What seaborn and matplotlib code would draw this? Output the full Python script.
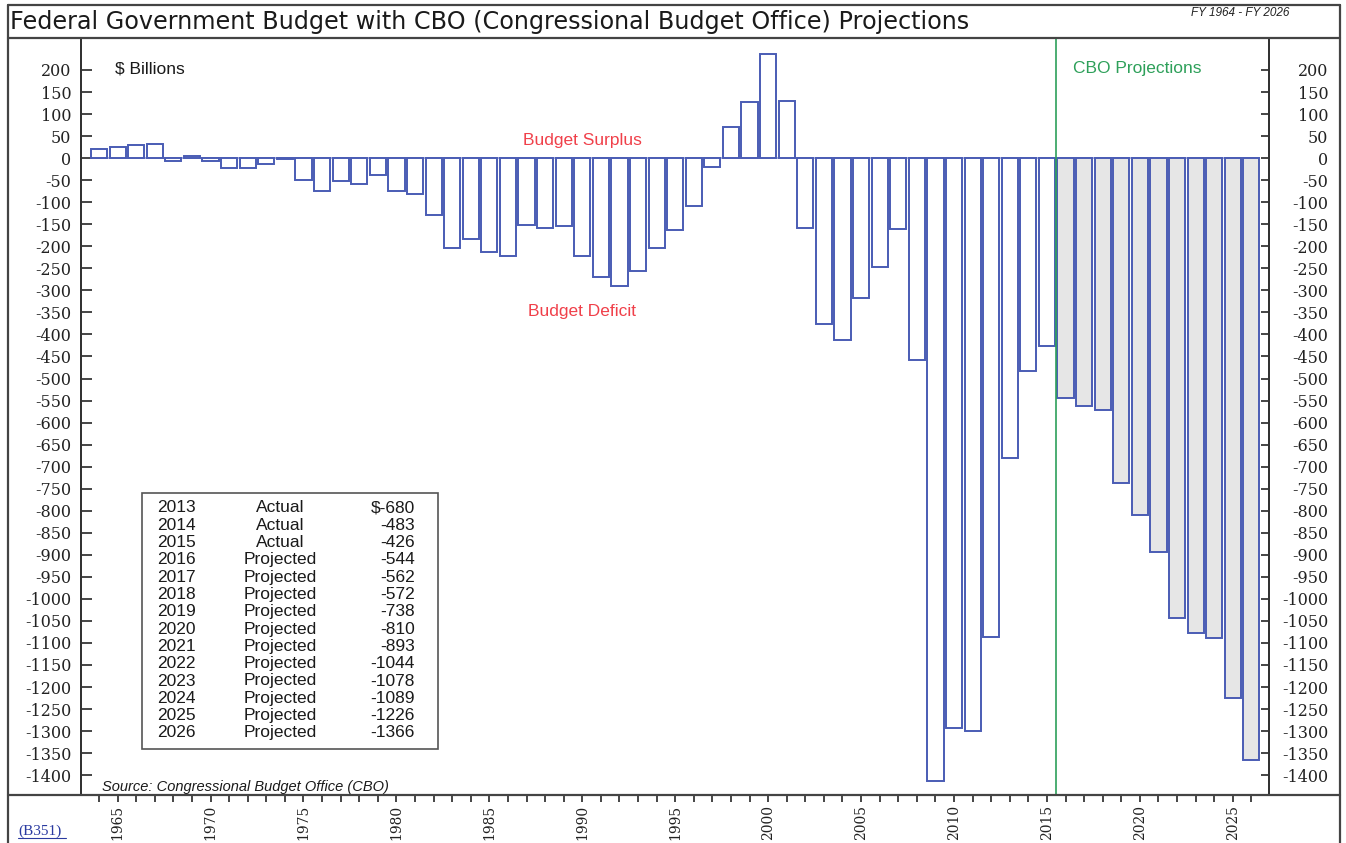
import numpy as np
import pandas as pd

import seaborn as sns
import matplotlib.pyplot as plt
from matplotlib.lines import Line2D
from matplotlib.ticker import MultipleLocator

# budget balance, $ billions
years = np.arange(1964, 2027)
balance = np.array([
    20, 26, 30, 33, -7, 4, -7, -23, -23, -13,
    -3, -49, -75, -52, -59, -39, -75, -82, -128, -205,
    -184, -213, -223, -151, -158, -155, -223, -269, -289, -255,
    -204, -164, -108, -20, 71, 127, 237, 130, -158, -376,
    -412, -317, -248, -161, -459, -1413, -1294, -1300, -1087, -680,
    -483, -426, -544, -562, -572, -738, -810, -893, -1044, -1078,
    -1089, -1226, -1366,
])
first_projected = 2016
table_from = 2013

kind = np.where(years >= first_projected, "Projected", "Actual")
data = pd.DataFrame({"Year": years, "Balance": balance, "Type": kind})

W, H = 1346, 843
fig = plt.figure(figsize=(W / 100, H / 100), dpi=100)
sns.set_style("white")
plt.rcParams['font.family'] = ['Liberation Sans', 'DejaVu Sans']


def fx(px):
    return px / W


def fy(py):
    return 1 - py / H


ax = fig.add_axes([fx(81), fy(795), fx(1268.5) - fx(81), fy(38) - fy(795)])

bar_blue = "#4a5cb4"
sns.barplot(data=data, x="Year", y="Balance", hue="Type", native_scale=True,
            palette={"Actual": "white", "Projected": "#e6e6e6"}, saturation=1,
            dodge=False, width=0.87, edgecolor=bar_blue, linewidth=1.4,
            legend=False, ax=ax)

ax.hlines(0, years[0] - 0.45, years[-1] + 0.45, color="#8f9bd6", lw=1.2, zorder=0)
ax.axvline(first_projected - 0.5, color="#2ea05a", lw=1.2)

ax.set_xlim(1963.03, 2026.92)
ax.set_ylim(-1445, 272.6)
ax.set_xlabel("")
ax.set_ylabel("")

serif = "DejaVu Serif"
tick_col = "#222222"
yt = np.arange(-1400, 201, 50)
ax.set_yticks(yt)
ax.set_yticklabels([str(v) for v in yt], family=serif, fontsize=11.5, color=tick_col)
ax.tick_params(axis="y", direction="in", length=8, width=1.2, pad=7, left=True)

ax.set_xticks(np.arange(1965, 2026, 5))
ax.set_xticklabels([str(v) for v in range(1965, 2026, 5)], rotation=90,
                   family=serif, fontsize=10, color=tick_col)
ax.xaxis.set_minor_locator(MultipleLocator(1))
ax.tick_params(axis="x", which="both", direction="out", length=5, width=1.2,
               pad=2, bottom=True)

ax2 = ax.twinx()
ax2.set_ylim(ax.get_ylim())
ax2.set_yticks(yt)
ax2.set_yticklabels([str(v) for v in yt], family=serif, fontsize=11.5, color=tick_col,
                    ha="right")
ax2.tick_params(axis="y", direction="in", length=6, width=1.2, pad=43, right=True)

for a in (ax, ax2):
    for s in a.spines.values():
        s.set_color("#333333")
        s.set_linewidth(1.4)
    a.spines["bottom"].set_visible(False)
    a.spines["top"].set_visible(False)

# frame, header line and baseline across the whole figure
frame_kw = dict(color="#444444", lw=1.6, transform=fig.transFigure)
fig.add_artist(Line2D([fx(8), fx(8)], [fy(5), 0], **frame_kw))
fig.add_artist(Line2D([fx(1340), fx(1340)], [fy(5), 0], **frame_kw))
fig.add_artist(Line2D([fx(8), fx(1340)], [fy(5), fy(5)], **frame_kw))
fig.add_artist(Line2D([fx(8), fx(1340)], [fy(38), fy(38)], **frame_kw))
fig.add_artist(Line2D([fx(8), fx(1340)], [fy(795), fy(795)], **frame_kw))

fig.text(fx(10), fy(22), "Federal Government Budget with CBO (Congressional Budget Office) Projections",
         fontsize=17.2, family="DejaVu Sans", color="#1a1a1a", va="center", ha="left")
fig.text(fx(1240), fy(13), "FY 1964 - FY 2026", fontsize=8.5, style="italic",
         color="#222222", va="center", ha="center")

fig.text(fx(115), fy(69), "$ Billions", fontsize=12.5, color="#1a1a1a", va="center")
fig.text(fx(582), fy(140), "Budget Surplus", fontsize=12.5, color="#f0404a", va="center", ha="center")
fig.text(fx(582), fy(312), "Budget Deficit", fontsize=12.5, color="#f0404a", va="center", ha="center")
fig.text(fx(1073), fy(69), "CBO Projections", fontsize=12.5, color="#2ea05a", va="center")
fig.text(fx(102), fy(787), "Source: Congressional Budget Office (CBO)", fontsize=10.5,
         style="italic", color="#1a1a1a", va="center")
fig.text(fx(18), fy(831), "(B351)", fontsize=11, family="Liberation Serif", color="#2a3aa0",
         va="center")
fig.add_artist(Line2D([fx(18), fx(66)], [fy(838), fy(838)], color="#2a3aa0", lw=0.8,
                      transform=fig.transFigure))

# table box
tab = data[data["Year"] >= table_from]
fig.add_artist(plt.Rectangle((fx(142), fy(749)), fx(438) - fx(142), fy(493) - fy(749),
                             fill=False, edgecolor="#555555", lw=1.2, transform=fig.transFigure))
for i, (yr, val, typ) in enumerate(zip(tab["Year"], tab["Balance"], tab["Type"])):
    row_y = fy(508 + i * 17.3)
    label = f"${val}" if i == 0 else str(val)
    fig.text(fx(157), row_y, str(yr), fontsize=12.5, color="#1a1a1a", va="center", ha="left")
    fig.text(fx(280), row_y, typ, fontsize=12.5, color="#1a1a1a", va="center", ha="center")
    fig.text(fx(415), row_y, label, fontsize=12.5, color="#1a1a1a", va="center", ha="right")

fig.savefig("out.png", dpi=100)
